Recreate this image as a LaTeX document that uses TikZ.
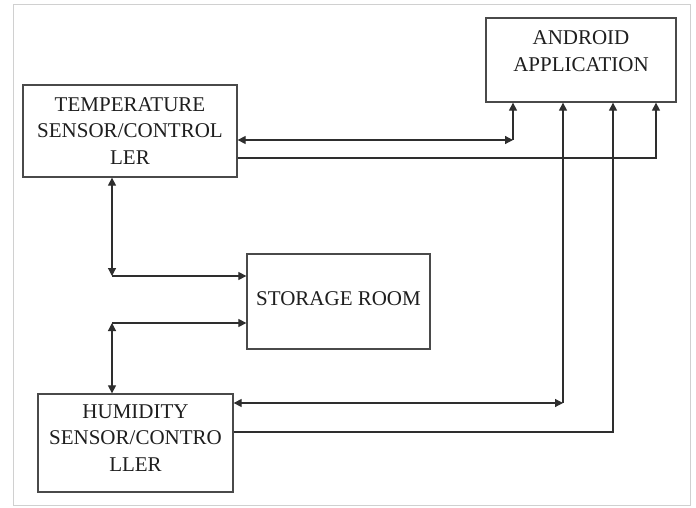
\documentclass[tikz,border=0pt]{standalone}
\usepackage{fontspec}
\setmainfont{Liberation Serif}
\usetikzlibrary{arrows.meta}
\definecolor{linec}{HTML}{2E2E2E}
\definecolor{boxc}{HTML}{4A4A4A}
\definecolor{framec}{HTML}{D0D0D0}
\definecolor{textc}{HTML}{1E1E1E}
\tikzset{
  box/.style={draw=boxc, line width=1.3pt, rectangle, inner sep=0pt},
  lbl/.style={align=center, text=textc, font=\fontsize{21}{26.5}\selectfont},
  conn/.style={draw=linec, line width=1.2pt},
  arrowone/.style={-{Triangle[length=8pt,width=8pt]}},
  arrowtwo/.style={{Triangle[length=8pt,width=8pt]}-{Triangle[length=8pt,width=8pt]}}
}
\begin{document}
\begin{tikzpicture}[x=1pt,y=-1pt]
\useasboundingbox (0,0) rectangle (696,508);
\fill[white] (0,0) rectangle (696,508);
\draw[framec, line width=1pt] (13,5) rectangle (690,505);

\node[box, minimum width=190pt, minimum height=84pt] (android) at (581,60) {};
\node[lbl] (androidtxt) at (581,51) {ANDROID\\APPLICATION};

\node[box, minimum width=214pt, minimum height=92pt, lbl] (temp) at (130,131) {TEMPERATURE\\SENSOR/CONTROL\\LER};
\node[box, minimum width=183pt, minimum height=95pt] (storage) at (338.5,301.5) {};
\node[lbl] (storagetxt) at (338.5,299) {STORAGE ROOM};
\node[box, minimum width=195pt, minimum height=98pt] (hum) at (135.5,443) {};
\node[lbl] (humtxt) at (135.5,438) {HUMIDITY\\SENSOR/CONTRO\\LLER};

\coordinate (c1) at (513,140);
\coordinate (c2) at (656,158);
\coordinate (c3) at (112,276);
\coordinate (c4) at (112,323);
\coordinate (c5) at (563,403);
\coordinate (c6) at (613,432);

\draw[conn, arrowtwo] (c1 -| temp.east) -- (c1);
\draw[conn, arrowone] (c1) -- (c1 |- android.south);
\draw[conn, arrowone] (c2 -| temp.east) -- (c2) -- (c2 |- android.south);

\draw[conn, arrowtwo] (c3 |- temp.south) -- (c3);
\draw[conn, arrowone] (c3) -- (c3 -| storage.west);
\draw[conn, arrowtwo] (c4 |- hum.north) -- (c4);
\draw[conn, arrowone] (c4) -- (c4 -| storage.west);

\draw[conn, arrowtwo] (c5 -| hum.east) -- (c5);
\draw[conn, arrowone] (c5) -- (c5 |- android.south);
\draw[conn, arrowone] (c6 -| hum.east) -- (c6) -- (c6 |- android.south);
\end{tikzpicture}
\end{document}
